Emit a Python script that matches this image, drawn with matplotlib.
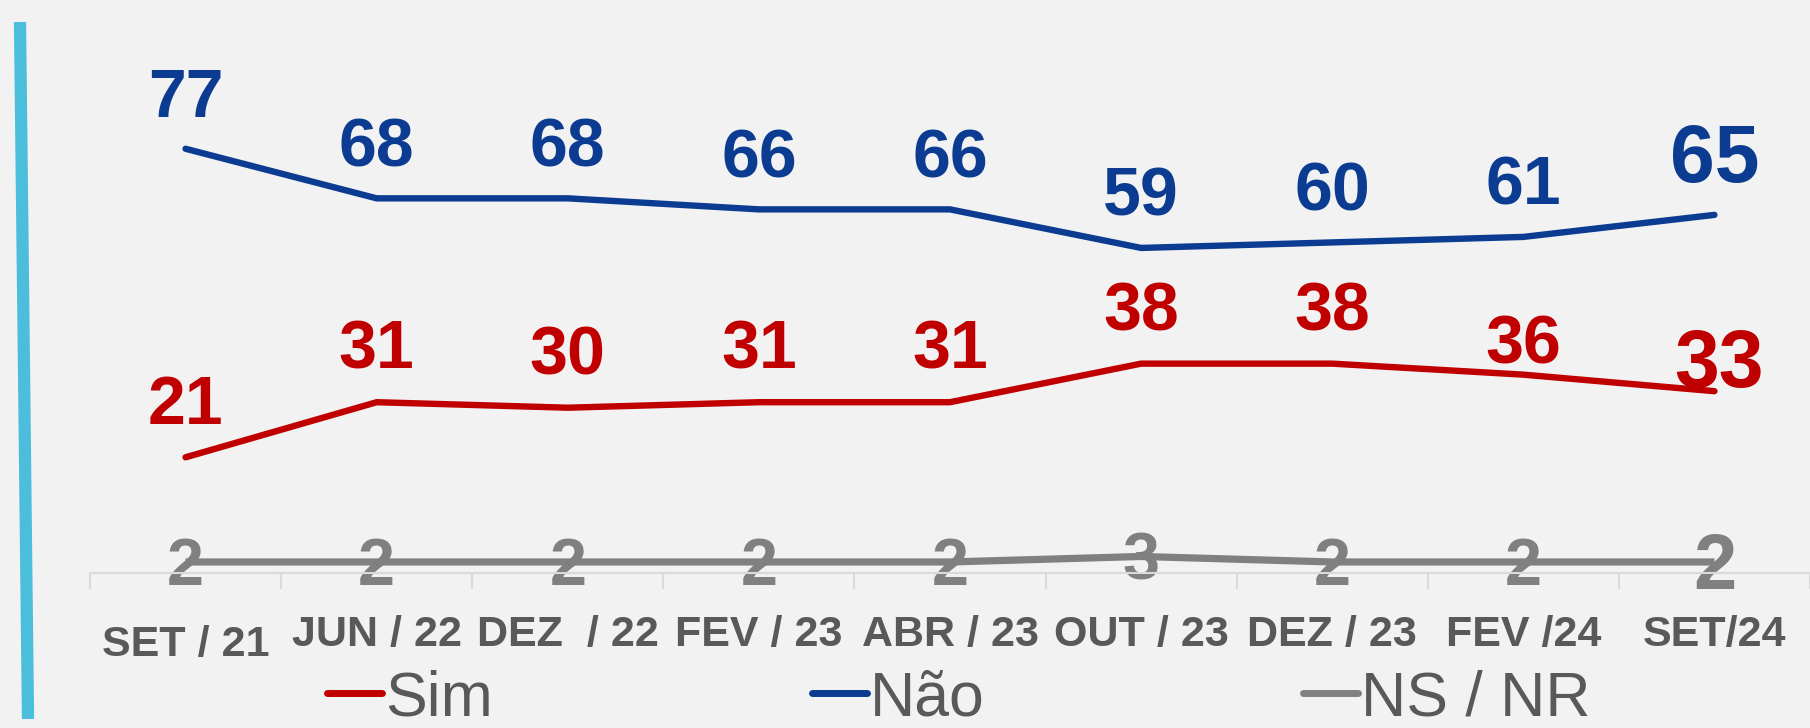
import matplotlib.pyplot as plt
from matplotlib.lines import Line2D
from matplotlib.transforms import blended_transform_factory

periods = ['SET / 21', 'JUN / 22', 'DEZ  / 22', 'FEV / 23', 'ABR / 23',
           'OUT / 23', 'DEZ / 23', 'FEV /24', 'SET/24']
sim = [21, 31, 30, 31, 31, 38, 38, 36, 33]
nao = [77, 68, 68, 66, 66, 59, 60, 61, 65]
ns_nr = [2, 2, 2, 2, 2, 3, 2, 2, 2]

BG = '#f2f2f2'
BLUE = '#0b3c91'
RED = '#c00000'
GRAY = '#808080'
TXT = '#595959'

plt.rcParams['font.family'] = ['Liberation Sans', 'DejaVu Sans']

W, H = 1810, 728
fig = plt.figure(figsize=(W / 100, H / 100), dpi=100, facecolor=BG)
ax = fig.add_axes([90 / W, (H - 573) / H, 1 - 90 / W, 573 / H])
ax.set_facecolor(BG)

x = list(range(len(periods)))
ax.set_xlim(-0.5, len(periods) - 0.5)
ax.set_ylim(0, 104)

ax.plot(x, sim, color=RED, lw=4.6, solid_capstyle='round', solid_joinstyle='round', label='Sim')
ax.plot(x, nao, color=BLUE, lw=4.6, solid_capstyle='round', solid_joinstyle='round', label='Não')
ax.plot(x, ns_nr, color=GRAY, lw=5.2, solid_capstyle='butt', label='NS / NR')

# data labels (last point drawn larger)
last = len(x) - 1
for i in x:
    big = i == last
    fs = 58 if big else 49
    nao_off = 39 if big else 36
    if i == last:
        sim_off = 18
    elif i == last - 1:
        sim_off = 21
    else:
        sim_off = 37
    ax.annotate(str(nao[i]), (i, nao[i]), xytext=(0, nao_off), textcoords='offset points',
                ha='center', va='center', fontsize=fs, fontweight='bold', color=BLUE)
    ax.annotate(str(sim[i]), (i, sim[i]), xytext=(3 if big else 0, sim_off), textcoords='offset points',
                ha='center', va='center', fontsize=fs, fontweight='bold', color=RED)
    ax.annotate(str(ns_nr[i]), (i, ns_nr[i]), xytext=(0, -5 if big else -4), textcoords='offset points',
                ha='center', va='center', fontsize=56 if big else 48, fontweight='bold', color=GRAY,
                zorder=1)

# axis: baseline + category separators
for s in ['left', 'right', 'top']:
    ax.spines[s].set_visible(False)
ax.spines['bottom'].set_color('#dadada')
ax.spines['bottom'].set_linewidth(1.5)
ax.set_yticks([])
ax.set_xticks([i - 0.5 for i in range(len(periods) + 1)])
ax.set_xticklabels([])
ax.tick_params(axis='x', length=11.5, width=1.5, color='#dadada', direction='out')

trans = blended_transform_factory(ax.transData, ax.transAxes)
for i, lab in enumerate(periods):
    dy = -0.126 if i == 0 else -0.108
    ax.text(i, dy, lab, transform=trans, ha='center', va='center',
            fontsize=31, fontweight='bold', color=TXT)

# cyan accent bar on the left
fig.add_artist(Line2D([20 / W, 28 / W], [1 - 22 / H, 1 - 719 / H], transform=fig.transFigure,
                      color='#4bbedc', lw=8.8, solid_capstyle='butt'))

handles = [Line2D([], [], color=c, lw=5, solid_capstyle='round') for c in (RED, BLUE, GRAY)]
leg = fig.legend(handles, ['Sim', 'Não', 'NS / NR'], loc='lower left',
                 bbox_to_anchor=(327 / W, 0), ncol=3, frameon=False,
                 fontsize=45, handlelength=0.88, handletextpad=0.05, columnspacing=5.1,
                 borderpad=0, borderaxespad=0)
for t in leg.get_texts():
    t.set_color(TXT)

fig.savefig('out.png', dpi=100, facecolor=BG)
